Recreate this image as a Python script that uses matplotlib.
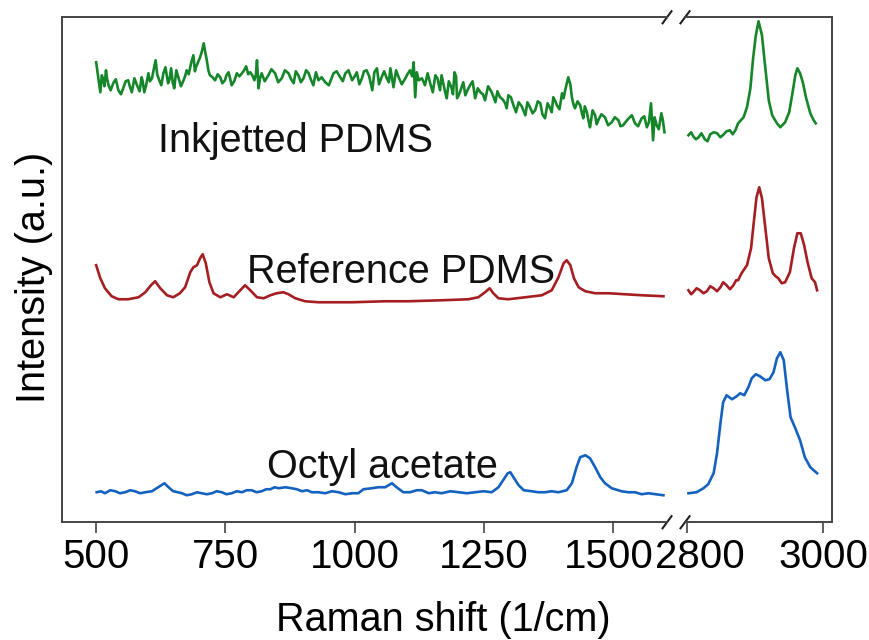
import matplotlib.pyplot as plt
import matplotlib.transforms as mtransforms
import numpy as np

plt.rcParams['font.family'] = ['Liberation Sans', 'DejaVu Sans']

# ---- traced spectra (wavenumber in 1/cm, intensity in arbitrary units, offset already included) ----
# Inkjetted PDMS, low-wavenumber region (main trace)
ink_lo_x = [500, 508, 514, 519, 524, 533, 543, 553, 562, 569, 579, 588, 593, 601, 608, 615, 622, 630,
            639, 645, 651, 659, 669, 675, 684, 688, 693, 701, 708, 714, 720, 730, 740, 749, 756, 762,
            772, 782, 790, 798, 806, 811, 814, 820, 833, 846, 859, 872, 882, 891, 901, 911, 920, 930,
            943, 959, 972, 982, 995, 1004, 1014, 1023, 1034, 1043, 1052, 1062, 1069, 1075, 1085, 1098,
            1107, 1114, 1117, 1124, 1136, 1146, 1156, 1165, 1172, 1178, 1187, 1193, 1198, 1206, 1214,
            1223, 1233, 1243, 1252, 1264, 1272, 1281, 1291, 1297, 1307, 1317, 1330, 1339, 1349, 1359,
            1368, 1378, 1384, 1391, 1401, 1407, 1413, 1420, 1426, 1436, 1442, 1449, 1455, 1465, 1471,
            1484, 1497, 1510, 1519, 1530, 1542, 1555, 1565, 1573, 1577, 1584, 1593, 1599]
ink_lo_y = [460, 430, 442, 452, 437, 439, 432, 435, 442, 430, 437, 445, 430, 449, 444, 462, 442, 449,
            439, 454, 434, 445, 442, 452, 460, 467, 455, 465, 479, 462, 447, 442, 445, 442, 450, 437,
            449, 449, 456, 450, 442, 462, 434, 449, 447, 449, 444, 449, 439, 447, 444, 449, 437, 442,
            440, 449, 445, 449, 442, 450, 444, 452, 432, 454, 445, 444, 454, 435, 445, 444,
            452, 460, 425, 442, 437, 439, 447, 432, 437, 424, 435, 450, 424, 434, 427,
            437, 424, 430, 422, 431, 420, 425, 419, 427, 417, 420, 407, 415, 412, 419,
            404, 414, 425, 417, 429, 432, 445, 425, 414, 417, 404, 410, 395, 407, 402,
            405, 400, 402, 397, 404, 399, 404, 395, 419, 382, 397, 409, 390]
# finer noise spikes between the main points
ink_lo_fine_x = [511, 516, 521, 528, 538, 548, 557, 565, 574, 584, 590, 597, 604, 611, 618, 626, 634,
                 642, 648, 655, 664, 672, 679, 691, 697, 704, 711, 717, 725, 735, 744, 752, 759, 767,
                 777, 786, 794, 802, 809, 817, 826, 839, 852, 865, 877, 886, 896, 906, 915, 925, 936,
                 950, 965, 977, 988, 1000, 1009, 1018, 1028, 1038, 1047, 1057, 1066, 1080, 1091, 1102,
                 1111, 1120, 1130, 1141, 1151, 1160, 1168, 1175, 1182, 1190, 1196, 1202, 1210, 1218,
                 1228, 1238, 1248, 1258, 1268, 1276, 1286, 1294, 1302, 1312, 1323, 1334, 1344, 1354,
                 1363, 1373, 1381, 1388, 1396, 1404, 1417, 1423, 1431, 1439, 1445, 1452, 1460, 1468,
                 1477, 1490, 1503, 1514, 1525, 1536, 1548, 1560, 1569, 1580, 1588, 1596]
ink_lo_fine_y = [447, 436, 444, 432, 443, 428, 441, 436, 444, 431, 441, 438, 441, 452, 448, 437, 455,
                 443, 440, 452, 436, 446, 448, 451, 460, 470, 470, 452, 445, 448, 439, 447, 444, 441,
                 446, 452, 448, 447, 448, 444, 441, 453, 440, 452, 443, 451, 440, 452, 443, 450, 445,
                 437, 451, 441, 452, 446, 438, 451, 446, 450, 438, 451, 440, 452, 438, 448,
                 446, 450, 444, 449, 430, 444, 447, 430, 441, 428, 446, 428, 440, 432,
                 441, 434, 428, 436, 426, 431, 423, 414, 425, 410, 416, 420, 409, 421,
                 408, 419, 410, 421, 413, 424, 438, 418, 421, 410, 416, 402, 412, 398,
                 408, 397, 405, 396, 401, 407, 396, 406, 400, 405, 393, 402]

# Inkjetted PDMS, C-H stretch region
ink_hi_x = [2802, 2806, 2809, 2813, 2817, 2821, 2826, 2830, 2834, 2839, 2844, 2849, 2854, 2858, 2863,
            2867, 2871, 2875, 2883, 2888, 2893, 2897, 2901, 2905, 2910, 2915, 2920, 2925, 2932, 2937,
            2944, 2950, 2955, 2959, 2962, 2966, 2970, 2975, 2981, 2986, 2989]
ink_hi_y = [387, 390, 386, 383, 385, 389, 383, 381, 388, 390, 389, 385, 388, 391, 392,
            388, 392, 399, 405, 415, 434, 464, 487, 501, 487, 454, 422, 407, 399, 395,
            400, 410, 430, 447, 454, 449, 440, 424, 409, 402, 399]

# Reference PDMS
ref_lo_x = [500, 508, 517, 530, 543, 562, 582, 595, 606, 614, 624, 637, 649, 662, 672, 682, 688, 695,
            701, 706, 712, 719, 727, 740, 753, 766, 775, 788, 798, 811, 824, 837, 849, 862, 872, 885,
            904, 930, 995, 1059, 1104, 1169, 1220, 1239, 1252, 1261, 1268, 1278, 1297, 1330, 1362,
            1381, 1394, 1404, 1410, 1417, 1424, 1433, 1446, 1465, 1491, 1523, 1555, 1597]
ref_lo_y = [257, 244, 234, 226, 223, 223, 225, 230, 237, 241, 234, 227, 225, 229, 235, 250, 255, 257,
            264, 268, 259, 240, 229, 225, 228, 225, 230, 237, 232, 225, 224, 227, 229, 230, 228, 224,
            221, 220, 220, 221, 221, 222, 223, 225, 230, 234, 229, 224, 223, 225, 227,
            232, 245, 259, 262, 257, 244, 235, 231, 229, 229, 228, 227, 226]

ref_hi_x = [2802, 2806, 2809, 2814, 2819, 2824, 2829, 2834, 2839, 2844, 2849, 2853, 2858, 2863, 2868,
            2872, 2875, 2880, 2888, 2894, 2898, 2902, 2906, 2910, 2915, 2920, 2926, 2930, 2934, 2939,
            2944, 2951, 2957, 2962, 2967, 2972, 2977, 2983, 2988, 2991]
ref_hi_y = [232, 228, 230, 234, 232, 229, 231, 236, 234, 231, 235, 240, 237, 233, 237,
            242, 242, 249, 257, 274, 300, 325, 335, 324, 294, 264, 249, 246, 244, 239,
            240, 250, 274, 289, 289, 277, 260, 244, 240, 232]

# Octyl acetate
oct_lo_x = [501, 509, 517, 527, 537, 546, 556, 566, 575, 585, 595, 608, 617, 626, 632, 640, 649, 658,
            666, 675, 685, 695, 704, 714, 724, 733, 743, 752, 762, 772, 782, 791, 801, 810, 820, 829,
            837, 845, 853, 866, 878, 888, 898, 908, 917, 930, 943, 956, 969, 982, 995, 1007, 1017, 1033,
            1046, 1059, 1072, 1081, 1094, 1107, 1120, 1130, 1143, 1155, 1168, 1185, 1201, 1217, 1233,
            1249, 1265, 1278, 1287, 1296, 1301, 1307, 1317, 1327, 1342, 1355, 1368, 1381, 1394, 1410,
            1420, 1429, 1436, 1446, 1455, 1465, 1475, 1484, 1497, 1516, 1529, 1542, 1555, 1568, 1582,
            1597]
oct_lo_y = [30, 31, 29, 32, 31, 29, 30, 32, 31, 29, 30, 31, 34, 37, 39, 35, 31, 30,
            29, 27, 28, 30, 29, 28, 29, 31, 30, 28, 29, 31, 30, 32, 32, 30, 31, 33,
            33, 35, 34, 35, 34, 33, 31, 32, 30, 30, 29, 31, 30, 28, 29, 29, 33, 34,
            35, 35, 39, 35, 30, 30, 32, 32, 29, 30, 29, 31, 30, 29, 30,
            31, 30, 35, 42, 49, 50, 45, 37, 32, 31, 30, 30, 31, 30, 32,
            39, 55, 65, 67, 64, 55, 45, 39, 34, 31, 30, 30, 28, 29, 28,
            27]

oct_hi_x = [2802, 2814, 2824, 2831, 2839, 2844, 2849, 2853, 2858, 2866, 2873, 2878, 2884, 2890, 2895,
            2901, 2907, 2915, 2921, 2927, 2932, 2937, 2942, 2947, 2952, 2959, 2966, 2973, 2981, 2991]
oct_hi_y = [29, 30, 34, 38, 49, 69, 99, 120, 127, 123, 126, 129, 127, 135, 144,
            148, 146, 142, 143, 150, 164, 170, 162, 132, 105, 94, 82, 65, 55, 49]

labels = ['Inkjetted PDMS', 'Reference PDMS', 'Octyl acetate']
label_x = [620, 792, 831]
label_y = [370, 239, 44]
colors = ['#16862a', '#a41e22', '#1462bf']

# merge the fine noise points into the inkjetted trace
mx = np.concatenate([ink_lo_x, ink_lo_fine_x])
my = np.concatenate([ink_lo_y, ink_lo_fine_y])
order = np.argsort(mx, kind='stable')
ink_lo = (mx[order], my[order])

series_lo = [ink_lo, (ref_lo_x, ref_lo_y), (oct_lo_x, oct_lo_y)]
series_hi = [(ink_hi_x, ink_hi_y), (ref_hi_x, ref_hi_y), (oct_hi_x, oct_hi_y)]

fig = plt.figure(figsize=(8.7, 6.4), dpi=100)
ax1 = fig.add_axes([0.0713, 0.184, 0.6954, 0.789])
ax2 = fig.add_axes([0.7874, 0.184, 0.169, 0.789])

for (x, y), c in zip(series_lo, colors):
    ax1.plot(x, y, color=c, lw=1.9)
for (x, y), c in zip(series_hi, colors):
    ax2.plot(x, y, color=c, lw=1.9)

for t, x, y in zip(labels, label_x, label_y):
    ax1.text(x, y, t, fontsize=28.5, va='baseline', ha='left', color='#111111')

ax1.set_xlim(434, 1604)
ax2.set_xlim(2797, 3013)
for ax in (ax1, ax2):
    ax.set_ylim(0, 505)
    ax.set_yticks([])
    ax.tick_params(axis='x', labelsize=29, length=8, width=1.2, color='#444444', pad=3)
    for s in ax.spines.values():
        s.set_color('#444444')
        s.set_linewidth(1.4)

ax1.set_xticks([500, 750, 1000, 1250, 1500])
ax2.set_xticks([2800, 3000])
ax1.spines['right'].set_visible(False)
ax2.spines['left'].set_visible(False)

# nudge the two labels next to the break apart, as in the original
lab1500 = ax1.get_xticklabels()[-1]
lab1500.set_transform(lab1500.get_transform() + mtransforms.ScaledTranslation(-0.04, 0, fig.dpi_scale_trans))
lab2800 = ax2.get_xticklabels()[0]
lab2800.set_transform(lab2800.get_transform() + mtransforms.ScaledTranslation(0.13, 0, fig.dpi_scale_trans))

# break marks (diagonal slashes at the ends of the broken spines)
dy = 0.012
dx1 = 0.0074
dx2 = 0.031
kw = dict(color='#222222', lw=1.5, clip_on=False)
for yy in (0, 1):
    ax1.plot([1 - dx1, 1 + dx1], [yy - dy, yy + dy], transform=ax1.transAxes, **kw)
    ax2.plot([-dx2, dx2], [yy - dy, yy + dy], transform=ax2.transAxes, **kw)

fig.text(0.509, 0.014, 'Raman shift (1/cm)', fontsize=28.5, ha='center', va='baseline')
fig.text(0.017, 0.567, 'Intensity (a.u.)', fontsize=28.5, ha='left', va='center', rotation=90)

fig.savefig('out.png', dpi=100)
